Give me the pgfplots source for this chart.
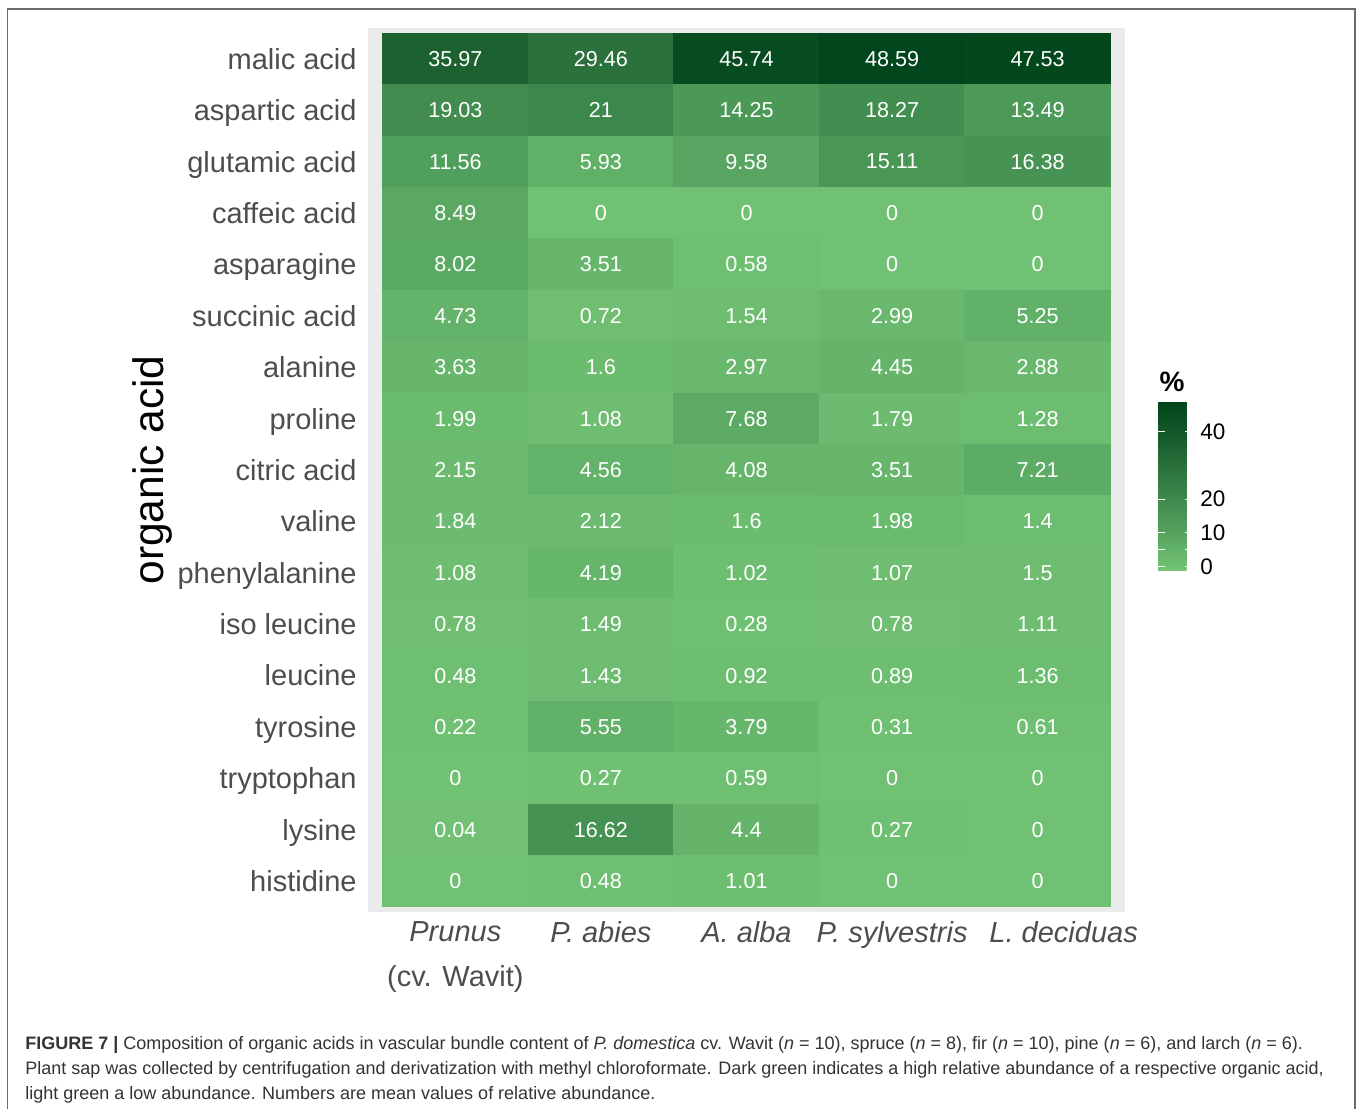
\documentclass[border=0pt]{standalone}
\usepackage{fontspec}
\setmainfont{Liberation Sans}
\usepackage{pgfplots}
\usepackage{pgfplotstable}
\pgfplotsset{compat=1.18}

\definecolor{panelbg}{HTML}{EBEBEB}
\definecolor{ticktext}{HTML}{4D4D4D}
\definecolor{captext}{HTML}{333333}
\definecolor{framecol}{HTML}{6A6A6A}

% x: species column, y: acid row (0 = malic acid, top), z: relative abundance
\pgfplotstableread{
x y z
0 0 35.97
1 0 29.46
2 0 45.74
3 0 48.59
4 0 47.53
0 1 19.03
1 1 21
2 1 14.25
3 1 18.27
4 1 13.49
0 2 11.56
1 2 5.93
2 2 9.58
3 2 15.11
4 2 16.38
0 3 8.49
1 3 0
2 3 0
3 3 0
4 3 0
0 4 8.02
1 4 3.51
2 4 0.58
3 4 0
4 4 0
0 5 4.73
1 5 0.72
2 5 1.54
3 5 2.99
4 5 5.25
0 6 3.63
1 6 1.6
2 6 2.97
3 6 4.45
4 6 2.88
0 7 1.99
1 7 1.08
2 7 7.68
3 7 1.79
4 7 1.28
0 8 2.15
1 8 4.56
2 8 4.08
3 8 3.51
4 8 7.21
0 9 1.84
1 9 2.12
2 9 1.6
3 9 1.98
4 9 1.4
0 10 1.08
1 10 4.19
2 10 1.02
3 10 1.07
4 10 1.5
0 11 0.78
1 11 1.49
2 11 0.28
3 11 0.78
4 11 1.11
0 12 0.48
1 12 1.43
2 12 0.92
3 12 0.89
4 12 1.36
0 13 0.22
1 13 5.55
2 13 3.79
3 13 0.31
4 13 0.61
0 14 0
1 14 0.27
2 14 0.59
3 14 0
4 14 0
0 15 0.04
1 15 16.62
2 15 4.4
3 15 0.27
4 15 0
0 16 0
1 16 0.48
2 16 1.01
3 16 0
4 16 0
}\sapdata

\begin{document}
\begin{tikzpicture}
\useasboundingbox (0,0) rectangle (679pt,554.5pt);
\draw[framecol, line width=0.8pt] (3.7pt,0) -- (3.7pt,550pt) -- (677.6pt,550pt) -- (677.6pt,0);

\begin{axis}[
    at={(184pt,98.5pt)}, anchor=south west,
    scale only axis,
    width=378.5pt, height=442pt,
    xmin=-0.6, xmax=4.6,
    ymin=-0.6, ymax=16.6,
    y dir=reverse,
    axis background/.style={fill=panelbg},
    axis line style={draw=none},
    major tick length=0pt,
    tick style={draw=none},
    xtick={0,...,4},
    ytick={0,...,16},
    xticklabels={{Prunus\\\textup{(cv. Wavit)}}, {P. abies}, {A. alba}, {P. sylvestris}, {\hspace*{26pt}L. deciduas}},
    yticklabels={malic acid, aspartic acid, glutamic acid, caffeic acid, asparagine, succinic acid, alanine, proline, citric acid, valine, phenylalanine, iso leucine, leucine, tyrosine, tryptophan, lysine, histidine},
    xticklabel style={anchor=north, inner sep=0pt, yshift=-4.5pt, align=center,
        font=\fontsize{14.5}{22.5}\selectfont\itshape, text=ticktext},
    yticklabel style={anchor=base east, inner sep=0pt, xshift=-5.5pt, yshift=-5.2pt,
        font=\fontsize{14.5}{17}\selectfont, text=ticktext},
    ylabel={organic acid},
    every axis y label/.style={at={(axis description cs:-0.2708,0.5)}, rotate=90, anchor=base,
        font=\fontsize{21.25}{25}\selectfont, text=black},
    colormap={sapgreens}{rgb255(0)=(116,196,118); rgb255(1)=(82,160,92); rgb255(2)=(54,127,70); rgb255(3)=(28,96,48); rgb255(4)=(0,68,27)},
    point meta min=-1.2, point meta max=48.9,
    colorbar,
    colorbar style={
        % the colorbar adds its own 0.3cm shift to the right
        at={(579pt-0.3cm,353.65pt)}, anchor=north west,
        scale only axis,
        width=17pt, height=84.5pt,
        y dir=normal,
        axis on top,
        axis line style={draw=none},
        ytick={0,5,10,20,40},
        yticklabels={0,,10,20,40},
        ytick pos=both,
        yticklabel pos=right,
        tick align=inside,
        major tick length=3.4pt,
        tick style={draw=white, line width=0.5pt},
        yticklabel style={anchor=west, inner sep=0pt, xshift=4pt,
            font=\fontsize{11.25}{13}\selectfont, text=black},
    },
]
\addplot[matrix plot*, mesh/cols=5, point meta=explicit,
    nodes near coords={\pgfmathprintnumber[fixed,precision=2,assume math mode=true]{\pgfplotspointmeta}},
    nodes near coords style={anchor=center, inner sep=0pt, text=white,
        font=\fontsize{10.8}{12}\selectfont},
] table[x=x, y=y, meta=z] {\sapdata};
\end{axis}

\node[font=\fontsize{14}{16}\selectfont\bfseries, anchor=center] at (586pt,363.5pt) {\%};

\begin{scope}[every node/.style={anchor=base west, inner sep=0pt, text=captext,
    font=\fontsize{9}{10}\selectfont}]
\node at (12.5pt,30pt) {\textbf{FIGURE 7 |} Composition of organic acids in vascular bundle content of \textit{P. domestica} cv. Wavit (\textit{n} = 10), spruce (\textit{n} = 8), fir (\textit{n} = 10), pine (\textit{n} = 6), and larch (\textit{n} = 6).};
\node at (12.5pt,17.5pt) {Plant sap was collected by centrifugation and derivatization with methyl chloroformate. Dark green indicates a high relative abundance of a respective organic acid,};
\node at (12.5pt,5pt) {light green a low abundance. Numbers are mean values of relative abundance.};
\end{scope}
\end{tikzpicture}
\end{document}
